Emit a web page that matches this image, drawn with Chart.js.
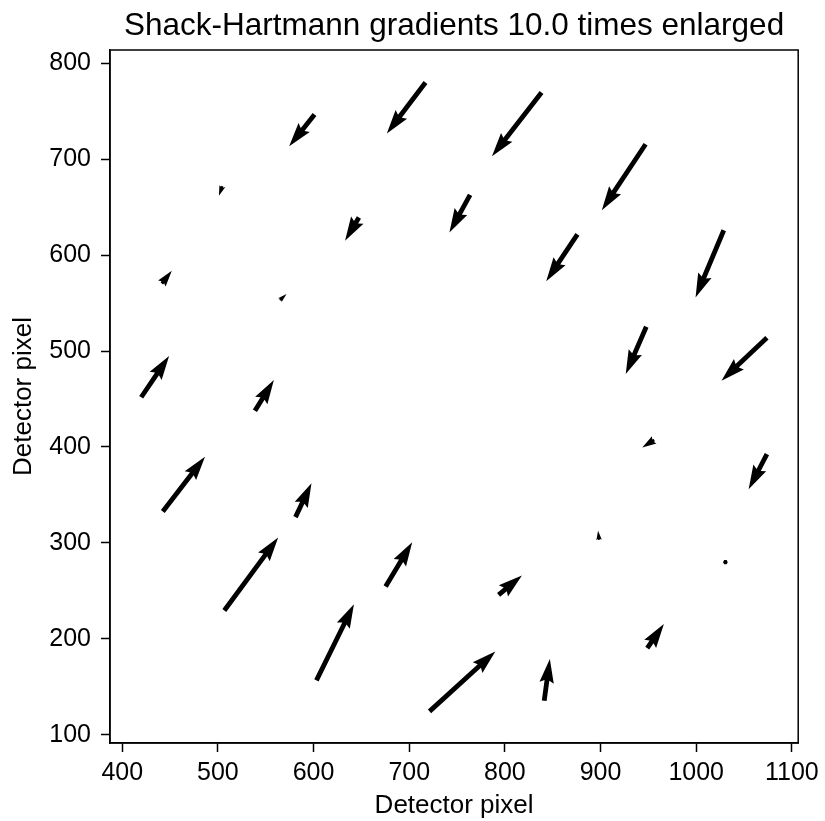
<!DOCTYPE html>
<html>
<head>
<meta charset="utf-8">
<script src="https://cdn.jsdelivr.net/npm/chart.js@4.4.1/dist/chart.umd.min.js"></script>
<style>
  html, body { margin: 0; padding: 0; background: #fff; }
</style>
</head>
<body>
<canvas id="myChart" width="825" height="821"></canvas>
<script>
// lenslet spot positions (detector pixels) and measured gradients
const enlarge = 10.0;
const spotX = [717, 601, 504.6, 647.4, 838.3, 947.1, 763.6, 875.8, 1028.8, 441.4,
  564.8, 419.8, 538.7, 442.4, 581.1, 947.8, 1073.9, 956.1, 1073.9, 506.7,
  675.3, 603, 721.2, 793.4, 841.1, 948.8, 898.4, 1030.5];
const spotY = [780, 746.6, 671.9, 639.3, 769.5, 715.6, 662.8, 621.6, 626, 570.5,
  553.1, 451.8, 437.8, 332.6, 326.8, 525.3, 513.9, 407.3, 392.4, 229.5,
  254.5, 156.6, 124.3, 245.8, 135.4, 190.3, 303.1, 279.9];
const gradX = [-4.04, -2.65, -0.35, -1.45, -5.18, -4.58, -2.16, -3.26, -2.95, 1.04,
  0.69, 2.92, 1.98, 4.41, 1.67, -2.15, -4.75, -1.25, -1.91, 5.63,
  2.78, 3.92, 6.88, 2.44, 0.59, 1.74, -0.10, 0];
const gradY = [-5.32, -3.31, -1.01, -2.44, -6.64, -6.87, -3.93, -4.87, -7.01, 1.31,
  0.63, 4.30, 3.20, 5.73, 3.54, -4.93, -4.48, -0.80, -3.64, 7.60,
  4.62, 7.95, 6.25, 2.01, 4.35, 2.50, 0.94, 0];
const xTicks = [400, 500, 600, 700, 800, 900, 1000, 1100];
const yTicks = [100, 200, 300, 400, 500, 600, 700, 800];
const xRange = [387.2, 1106.6];
const yRange = [91.3, 813.9];
const titleText = 'Shack-Hartmann gradients ' + enlarge.toFixed(1) + ' times enlarged';

const fontFamily = "'Liberation Sans', Arial, Helvetica, sans-serif";
const shaftW = 4.8; // px

// matplotlib style quiver arrows (pivot at tail)
const quiver = {
  id: 'quiver',
  afterDatasetsDraw(chart) {
    const {ctx, scales: {x, y}} = chart;
    ctx.save();
    ctx.fillStyle = '#000';
    spotX.forEach((sx, i) => {
      const x0 = x.getPixelForValue(sx);
      const y0 = y.getPixelForValue(spotY[i]);
      const x1 = x.getPixelForValue(sx + gradX[i] * enlarge);
      const y1 = y.getPixelForValue(spotY[i] + gradY[i] * enlarge);
      const dx = x1 - x0, dy = y1 - y0;
      const lenPx = Math.hypot(dx, dy);
      const len = lenPx / shaftW;
      let pts;
      let ux = 1, uy = 0;
      if (len < 1) {
        pts = [];
        for (let k = 0; k < 6; k++) {
          const th = k * Math.PI / 3;
          pts.push([Math.cos(th) * 0.5, Math.sin(th) * 0.5]);
        }
      } else {
        ux = dx / lenPx; uy = dy / lenPx;
        if (len < 5) {
          const s = len / 5;
          pts = [[0, .5], [.5, .5], [0, 1.5], [5, 0], [0, -1.5], [.5, -.5], [0, -.5]]
            .map(p => [p[0] * s, p[1] * s]);
        } else {
          pts = [[0, .5], [len - 4.5, .5], [len - 5, 1.5], [len, 0],
            [len - 5, -1.5], [len - 4.5, -.5], [0, -.5]];
        }
      }
      ctx.beginPath();
      pts.forEach(([a, c], k) => {
        const px = x0 + (a * ux - c * uy) * shaftW;
        const py = y0 + (a * uy + c * ux) * shaftW;
        if (k) ctx.lineTo(px, py); else ctx.moveTo(px, py);
      });
      ctx.closePath();
      ctx.fill();
    });
    ctx.restore();
  }
};

// box around the axes + title centred over the axes
const frame = {
  id: 'frame',
  afterDraw(chart) {
    const {ctx, chartArea: a} = chart;
    ctx.save();
    ctx.strokeStyle = '#000';
    ctx.lineWidth = 1.5;
    ctx.strokeRect(a.left, a.top, a.right - a.left, a.bottom - a.top);
    ctx.fillStyle = '#000';
    ctx.font = '31.5px ' + fontFamily;
    ctx.textAlign = 'center';
    ctx.textBaseline = 'alphabetic';
    ctx.fillText(titleText, (a.left + a.right) / 2, a.top - 15);
    ctx.restore();
  }
};

const ctx = document.getElementById('myChart').getContext('2d');

const myChart = new Chart(ctx, {
  type: 'scatter',
  data: {
    datasets: [{
      data: spotX.map((v, i) => ({x: v, y: spotY[i]})),
      pointRadius: 0,
      showLine: false
    }]
  },
  options: {
    responsive: false,
    animation: false,
    devicePixelRatio: 1,
    layout: { padding: { left: 0, right: 26, top: 50, bottom: 0 } },
    plugins: {
      legend: { display: false },
      tooltip: { enabled: false },
      title: { display: false }
    },
    scales: {
      x: {
        type: 'linear',
        min: xRange[0],
        max: xRange[1],
        afterBuildTicks: s => { s.ticks = xTicks.map(v => ({value: v})); },
        afterFit: s => { s.height = 78; },
        ticks: { color: '#000', font: { family: fontFamily, size: 25 }, padding: 6, maxRotation: 0,
          autoSkip: false, callback: v => String(v) },
        grid: { drawOnChartArea: false, drawTicks: true, tickLength: 9, tickWidth: 1.5, color: '#000' },
        border: { display: true, color: '#000', width: 1.5 },
        title: { display: true, text: 'Detector pixel', color: '#000',
          font: { family: fontFamily, size: 26 }, padding: { top: 0, bottom: 0 } }
      },
      y: {
        type: 'linear',
        min: yRange[0],
        max: yRange[1],
        afterBuildTicks: s => { s.ticks = yTicks.map(v => ({value: v})); },
        afterFit: s => { s.width = 110; },
        ticks: { color: '#000', font: { family: fontFamily, size: 25 }, padding: 10,
          autoSkip: false, callback: v => String(v) },
        grid: { drawOnChartArea: false, drawTicks: true, tickLength: 9, tickWidth: 1.5, color: '#000' },
        border: { display: true, color: '#000', width: 1.5 },
        title: { display: true, text: 'Detector pixel', color: '#000',
          font: { family: fontFamily, size: 26 }, padding: { top: 8, bottom: 0 } }
      }
    }
  },
  plugins: [quiver, frame]
});
</script>
</body>
</html>
